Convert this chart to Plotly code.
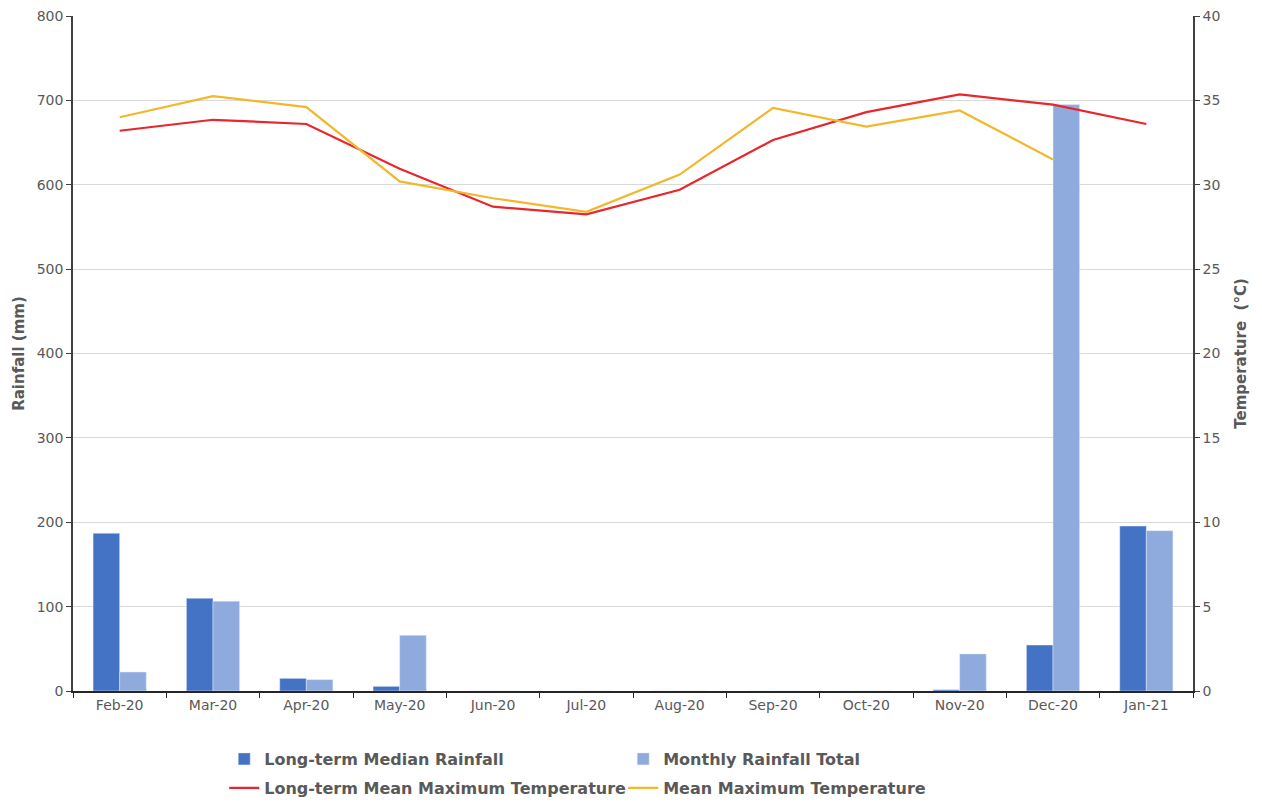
import plotly.graph_objects as go

months = ["Feb-20", "Mar-20", "Apr-20", "May-20", "Jun-20", "Jul-20",
          "Aug-20", "Sep-20", "Oct-20", "Nov-20", "Dec-20", "Jan-21"]
median_rain = [187, 110, 15, 5.5, 0, 0, 0, 0, 0, 1.5, 54.5, 195.5]
monthly_rain = [22.5, 106.5, 13.5, 66, 0, 0, 0, 0, 0, 44, 695, 190]
lt_mean_max_temp = [33.2, 33.85, 33.6, 30.95, 28.7, 28.25, 29.7, 32.65, 34.3, 35.35, 34.75, 33.6]
mean_max_temp = [34.0, 35.25, 34.6, 30.2, 29.2, 28.4, 30.6, 34.55, 33.45, 34.4, 31.5, None]

FONT = "DejaVu Sans"
GRAY = "#595959"

fig = go.Figure()
fig.add_trace(go.Bar(x=months, y=median_rain, name="Long-term Median Rainfall",
                     marker_color="#4472C4", yaxis="y", legend="legend"))
fig.add_trace(go.Bar(x=months, y=monthly_rain, name="Monthly Rainfall Total",
                     marker_color="#8FAADC", yaxis="y", legend="legend"))
fig.add_trace(go.Scatter(x=months, y=lt_mean_max_temp, name="Long-term Mean Maximum Temperature",
                         mode="lines", line=dict(color="#E8262C", width=2.2), yaxis="y2",
                         legend="legend2"))
fig.add_trace(go.Scatter(x=months, y=mean_max_temp, name="Mean Maximum Temperature",
                         mode="lines", line=dict(color="#F2B72B", width=2.2), yaxis="y2",
                         legend="legend2"))

legend_common = dict(orientation="h", xref="paper", x=0.135, xanchor="left",
                     yref="container", yanchor="middle",
                     entrywidth=354, entrywidthmode="pixels",
                     font=dict(family=FONT, size=16, color=GRAY, weight="bold"),
                     itemclick=False, bgcolor="rgba(0,0,0,0)")

fig.update_layout(
    width=1254, height=799,
    margin=dict(l=65, r=69, t=8, b=116),
    plot_bgcolor="white", paper_bgcolor="white",
    font=dict(family=FONT, color=GRAY, size=14),
    barmode="group", bargap=0.43, bargroupgap=0,
    showlegend=True,
    legend=dict(legend_common, y=1 - 751 / 799),
    legend2=dict(legend_common, y=1 - 780 / 799),
    xaxis=dict(type="category", showline=True, linecolor="#262626", linewidth=1.5,
               ticks="outside", tickson="boundaries", ticklen=5, tickcolor="#262626",
               tickfont=dict(size=14, color=GRAY), showgrid=False, automargin=False,
               ticklabeloverflow="allow"),
    yaxis=dict(range=[0, 800], dtick=100, showline=True, linecolor="#404040", linewidth=1.5,
               ticks="outside", ticklen=5, tickcolor="#404040",
               gridcolor="#D9D9D9", gridwidth=1, zeroline=False, automargin=False,
               ticklabeloverflow="allow",
               title=dict(text="<b>Rainfall (mm)</b>", font=dict(size=15, color=GRAY), standoff=8),
               tickfont=dict(size=14, color=GRAY)),
    yaxis2=dict(range=[0, 40], dtick=5, overlaying="y", side="right", showline=True,
                linecolor="#404040", linewidth=1.5, ticks="outside", ticklen=5, tickcolor="#404040",
                showgrid=False, zeroline=False, automargin=False, ticklabeloverflow="allow",
                title=dict(text="<b>Temperature  (°C)</b>", font=dict(size=15, color=GRAY), standoff=16),
                tickfont=dict(size=14, color=GRAY)),
)

fig.write_html("out.html")
